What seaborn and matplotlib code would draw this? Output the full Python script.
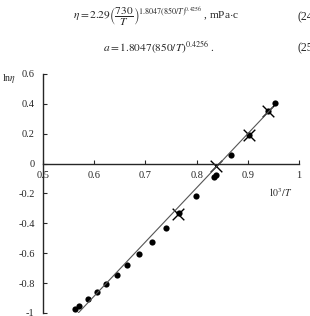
import matplotlib
matplotlib.use("Agg")
import matplotlib.pyplot as plt
import seaborn as sns
import pandas as pd

# ---- data ----
circ_x = [0.563, 0.570, 0.587, 0.605, 0.623, 0.644, 0.665, 0.688, 0.713, 0.740,
          0.766, 0.799, 0.834, 0.837, 0.868, 0.902, 0.940, 0.953]
circ_y = [-0.973, -0.955, -0.908, -0.859, -0.805, -0.745, -0.678, -0.604, -0.523, -0.432,
          -0.330, -0.215, -0.087, -0.074, 0.056, 0.193, 0.351, 0.407]
cross_x = [0.764, 0.838, 0.902, 0.940]
cross_y = [-0.338, -0.013, 0.193, 0.351]
fit_x = [0.566, 0.949]
fit_y = [-1.010, 0.378]

x_ticks = [0.5, 0.6, 0.7, 0.8, 0.9, 1.0]
x_labels = ["0.5", "0.6", "0.7", "0.8", "0.9", "1"]
y_ticks = [-1.0, -0.8, -0.6, -0.4, -0.2, 0.0, 0.2, 0.4, 0.6]
y_labels = ["-1", "-0.8", "-0.6", "-0.4", "-0.2", "0", "0.2", "0.4", "0.6"]

sns.set_style("ticks")
plt.rcParams["font.family"] = ["Liberation Serif", "DejaVu Serif"]
plt.rcParams["mathtext.fontset"] = "stix"
plt.rcParams["axes.unicode_minus"] = False

fig = plt.figure(figsize=(3.10, 3.16), dpi=100)
ax = fig.add_axes([43 / 310, 1 - 313 / 316, 256 / 310, 239 / 316])

df_c = pd.DataFrame({"x": circ_x, "y": circ_y})
df_x = pd.DataFrame({"x": cross_x, "y": cross_y})
df_f = pd.DataFrame({"x": fit_x, "y": fit_y})

sns.lineplot(data=df_f, x="x", y="y", ax=ax, color="#555555", linewidth=0.8)
sns.scatterplot(data=df_c, x="x", y="y", ax=ax, color="black", s=20, marker="o",
                edgecolor="black", linewidth=0)
sns.scatterplot(data=df_x, x="x", y="y", ax=ax, color="black", s=70, marker="x",
                linewidth=1.0)

ax.set_xlim(0.5, 1.0)
ax.set_ylim(-1.0, 0.6)
ax.spines["top"].set_visible(False)
ax.spines["right"].set_visible(False)
ax.spines["bottom"].set_position(("data", 0))
ax.spines["left"].set_linewidth(1.0)
ax.spines["bottom"].set_linewidth(1.0)

ax.set_xticks(x_ticks)
ax.set_xticklabels(x_labels)
ax.set_yticks(y_ticks)
ax.set_yticklabels(y_labels)
ax.tick_params(axis="x", direction="in", length=3, width=0.8, pad=5, labelsize=7.5)
ax.tick_params(axis="y", direction="in", length=3, width=0.8, pad=6, labelsize=7.5)

ax.set_xlabel(r"$10^3/T$", fontsize=7)
ax.xaxis.set_label_coords((280 - 43) / 256, (313 - 186) / 239)
ax.set_ylabel(r"ln$\eta$", fontsize=7, rotation=0)
ax.yaxis.set_label_coords((9 - 43) / 256, (313 - 85) / 239)

# equations above the chart
fig.text(73 / 310, 1 - 17 / 316,
         r"$\eta = 2.29\left(\dfrac{730}{T}\right)^{1.8047(850/T)^{0.4256}}\;$, mPa$\cdot$c",
         fontsize=8.2, va="center", ha="left")
fig.text(298 / 310, 1 - 17 / 316, "(24)", fontsize=8.5, va="center", ha="left")
fig.text(103 / 310, 1 - 48 / 316, r"$a = 1.8047\left(850/T\right)^{0.4256}$ .",
         fontsize=8.2, va="center", ha="left")
fig.text(298 / 310, 1 - 48 / 316, "(25)", fontsize=8.5, va="center", ha="left")

fig.savefig("out.png", dpi=100)
